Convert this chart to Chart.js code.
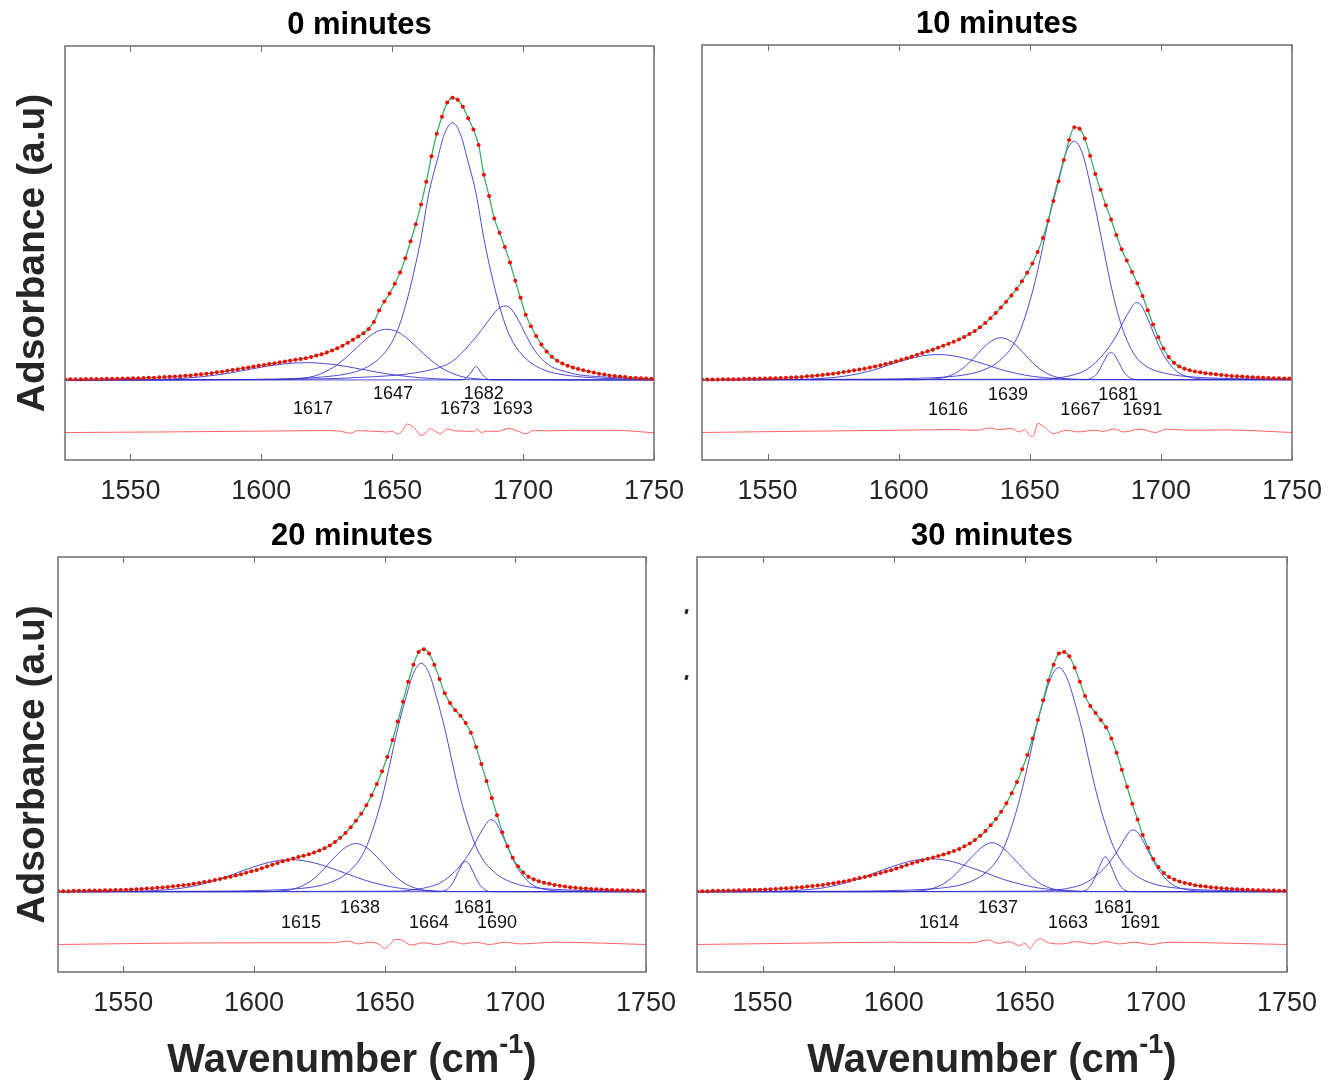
<!DOCTYPE html>
<html>
<head>
<meta charset="utf-8">
<script src="https://cdn.jsdelivr.net/npm/chart.js@4.4.1/dist/chart.umd.min.js"></script>
<style>
  body { margin: 0; background: #fff; width: 1338px; height: 1081px; position: relative; overflow: hidden; }
  canvas { position: absolute; left: 0; top: 0; }
  .speck { position: absolute; width: 3px; height: 5px; background: #222; transform: rotate(15deg); }
</style>
</head>
<body>
<canvas id="c0" width="1338" height="1081"></canvas>
<canvas id="c1" width="1338" height="1081"></canvas>
<canvas id="c2" width="1338" height="1081"></canvas>
<canvas id="c3" width="1338" height="1081"></canvas>
<div class="speck" style="left:685px;top:609px"></div>
<div class="speck" style="left:685px;top:675px"></div>
<script>
// ---- data (absorbance in a.u., baseline = 0) ----
const wavenumbers = [
  1525,1527,1529,1531,1533,1535,1537,1539,1541,1543,
  1545,1547,1549,1551,1553,1555,1557,1559,1561,1563,
  1565,1567,1569,1571,1573,1575,1577,1579,1581,1583,
  1585,1587,1589,1591,1593,1595,1597,1599,1601,1603,
  1605,1607,1609,1611,1613,1615,1617,1619,1621,1623,
  1625,1627,1629,1631,1633,1635,1637,1639,1641,1643,
  1645,1647,1649,1651,1653,1655,1657,1659,1661,1663,
  1665,1667,1669,1671,1673,1675,1677,1679,1681,1683,
  1685,1687,1689,1691,1693,1695,1697,1699,1701,1703,
  1705,1707,1709,1711,1713,1715,1717,1719,1721,1723,
  1725,1727,1729,1731,1733,1735,1737,1739,1741,1743,
  1745,1747,1749
];
const xTicks = [1550, 1600, 1650, 1700, 1750];

// 0 minutes
const spec0 = [
  .002,.002,.002,.002,.003,.003,.003,.003,.004,.004,
  .004,.005,.005,.006,.006,.007,.008,.008,.009,.010,
  .011,.012,.013,.015,.016,.018,.020,.022,.024,.027,
  .029,.032,.035,.038,.041,.044,.047,.050,.053,.056,
  .059,.062,.065,.068,.071,.074,.077,.081,.086,.091,
  .097,.104,.112,.121,.131,.142,.153,.165,.180,.205,
  .245,.277,.305,.340,.380,.430,.490,.550,.620,.700,
  .790,.870,.930,.980,.997,.990,.965,.925,.885,.830,
  .725,.650,.570,.520,.470,.415,.350,.290,.230,.190,
  .155,.125,.100,.082,.068,.058,.050,.044,.039,.034,
  .030,.026,.022,.019,.016,.014,.012,.010,.008,.007,
  .006,.005,.004
];
const comp0_1617 = [[1525,0],[1557,.001],[1567,.004],[1577,.011],[1587,.023],[1597,.040],[1607,.055],[1617,.061],[1627,.055],[1637,.040],[1647,.023],[1657,.011],[1667,.004],[1677,.001],[1750,0]];
const comp0_1647 = [[1525,0],[1608,.001],[1616,.006],[1620,.013],[1624,.027],[1628,.047],[1632,.076],[1636,.110],[1640,.144],[1644,.170],[1648,.179],[1652,.170],[1656,.144],[1660,.110],[1664,.076],[1668,.047],[1672,.027],[1676,.013],[1680,.006],[1688,.001],[1750,0]];
const comp0_1673 = [[1525,0],[1598,.002],[1613,.005],[1623,.010],[1633,.022],[1638,.035],[1643,.060],[1646,.085],[1649,.120],[1652,.175],[1655,.260],[1658,.370],[1661,.500],[1664,.660],[1667,.770],[1670,.870],[1673,.909],[1676,.870],[1679,.770],[1682,.660],[1685,.500],[1688,.370],[1691,.260],[1694,.175],[1697,.120],[1700,.085],[1703,.060],[1708,.035],[1713,.022],[1723,.010],[1733,.005],[1748,.002],[1750,.002]];
const comp0_1682 = [[1525,0],[1676,0],[1678,.005],[1680,.025],[1682,.047],[1684,.025],[1686,.005],[1688,0],[1750,0]];
const comp0_1693 = [[1525,0],[1620,.003],[1640,.010],[1655,.020],[1663,.032],[1668,.044],[1672,.060],[1676,.090],[1680,.130],[1684,.175],[1688,.225],[1691,.255],[1693,.261],[1695,.255],[1698,.215],[1701,.160],[1704,.110],[1707,.075],[1711,.046],[1716,.030],[1720,.020],[1728,.012],[1736,.008],[1750,.004]];
const resid0 = [[1525,-.186],[1560,-.184],[1600,-.181],[1625,-.179],[1630,-.181],[1634,-.188],[1637,-.179],[1641,-.181],[1645,-.182],[1648,-.184],[1650,-.181],[1652,-.191],[1654,-.178],[1655.5,-.156],[1657.5,-.162],[1659,-.176],[1661,-.196],[1663,-.186],[1664.5,-.172],[1666.5,-.182],[1668.5,-.190],[1671,-.173],[1674,-.180],[1678,-.181],[1681,-.183],[1682.5,-.174],[1684,-.186],[1686,-.181],[1690,-.182],[1694.5,-.172],[1698,-.181],[1701,-.190],[1704,-.179],[1710,-.180],[1720,-.178],[1735,-.178],[1750,-.187]];
const peaks0 = ['1617','1647','1673','1682','1693'];
const peakTextX0 = [1619.7, 1650.3, 1675.9, 1685, 1696];
const peakTextY0 = [-.102, -.049, -.102, -.049, -.102];

// 10 minutes
const spec1 = [
  .001,.001,.001,.001,.002,.002,.002,.002,.003,.003,
  .003,.004,.004,.005,.005,.006,.007,.008,.009,.010,
  .012,.013,.015,.017,.019,.021,.024,.027,.030,.033,
  .036,.039,.043,.047,.051,.055,.060,.065,.070,.076,
  .082,.088,.094,.100,.106,.113,.120,.127,.134,.142,
  .151,.161,.172,.185,.200,.217,.235,.255,.275,.297,
  .320,.347,.377,.410,.450,.500,.560,.630,.700,.775,
  .845,.890,.885,.850,.790,.725,.670,.615,.565,.510,
  .460,.420,.380,.340,.295,.245,.195,.150,.110,.080,
  .060,.047,.039,.033,.029,.026,.023,.021,.019,.017,
  .015,.013,.012,.011,.010,.009,.008,.007,.006,.005,
  .005,.004,.004
];
const comp1_1616 = [[1525,0],[1560,.001],[1570,.004],[1579,.012],[1585,.022],[1591,.036],[1597,.054],[1603,.071],[1609,.084],[1615,.089],[1621,.084],[1627,.071],[1633,.054],[1639,.036],[1645,.022],[1651,.012],[1660,.004],[1670,.001],[1750,0]];
const comp1_1639 = [[1525,0],[1608,0],[1612,.002],[1617,.007],[1621,.020],[1624,.037],[1627,.061],[1630,.090],[1633,.119],[1636,.140],[1639,.148],[1642,.140],[1645,.119],[1648,.090],[1651,.061],[1654,.037],[1657,.020],[1661,.007],[1666,.002],[1672,0],[1750,0]];
const comp1_1667 = [[1525,0],[1592,.002],[1607,.005],[1617,.009],[1627,.020],[1632,.033],[1637,.056],[1640,.080],[1643,.113],[1646,.165],[1649,.245],[1652,.345],[1655,.470],[1658,.600],[1661,.710],[1664,.805],[1667,.841],[1670,.800],[1673,.690],[1676,.560],[1679,.420],[1682,.290],[1685,.190],[1688,.120],[1691,.075],[1694,.050],[1697,.035],[1702,.022],[1707,.014],[1717,.007],[1727,.004],[1742,.002],[1750,.001]];
const comp1_1681 = [[1525,0],[1671,0],[1674,.008],[1676,.026],[1678,.060],[1680,.092],[1681,.095],[1682,.091],[1684,.060],[1686,.026],[1688,.008],[1691,0],[1750,0]];
const comp1_1691 = [[1525,0],[1655,.002],[1662,.008],[1667,.018],[1671,.032],[1675,.060],[1679,.100],[1683,.155],[1686,.210],[1688.5,.250],[1690.5,.272],[1692.5,.262],[1695,.215],[1697.5,.158],[1700,.105],[1702.5,.066],[1705,.038],[1708,.018],[1712,.007],[1718,.002],[1750,0]];
const resid1 = [[1525,-.186],[1560,-.182],[1600,-.178],[1620,-.176],[1630,-.178],[1635,-.170],[1638,-.176],[1643,-.172],[1646,-.184],[1648,-.176],[1650.5,-.200],[1651.5,-.196],[1653,-.154],[1655.5,-.166],[1659,-.190],[1664,-.178],[1668,-.184],[1675,-.178],[1678,-.182],[1682,-.174],[1686,-.184],[1692,-.174],[1698,-.186],[1702,-.174],[1710,-.178],[1725,-.177],[1750,-.186]];
const peaks1 = ['1616','1639','1667','1681','1691'];
const peakTextX1 = [1618.8, 1641.7, 1669.3, 1683.7, 1692.9];
const peakTextY1 = [-.106, -.053, -.106, -.053, -.106];

// 20 minutes
const spec2 = [
  .002,.002,.002,.003,.003,.003,.004,.004,.004,.005,
  .005,.006,.006,.007,.008,.009,.010,.011,.012,.014,
  .015,.017,.019,.021,.023,.025,.028,.031,.034,.037,
  .041,.045,.049,.053,.057,.062,.067,.072,.077,.083,
  .089,.095,.101,.107,.112,.117,.122,.127,.132,.138,
  .145,.153,.163,.175,.190,.207,.227,.250,.275,.305,
  .340,.380,.425,.475,.535,.600,.670,.740,.800,.845,
  .855,.840,.800,.750,.700,.665,.640,.620,.595,.560,
  .510,.450,.390,.330,.270,.210,.160,.120,.090,.068,
  .053,.044,.037,.032,.028,.024,.021,.018,.016,.014,
  .012,.011,.010,.009,.008,.007,.006,.005,.005,.004,
  .004,.003,.003
];
const comp2_1615 = [[1525,0],[1552,.001],[1562,.004],[1572,.012],[1579,.024],[1586,.042],[1593,.065],[1600,.088],[1607,.106],[1614,.113],[1621,.106],[1628,.088],[1635,.065],[1642,.042],[1649,.024],[1656,.012],[1666,.004],[1676,.001],[1750,0]];
const comp2_1638 = [[1525,0],[1605,0],[1609,.002],[1614,.007],[1619,.023],[1623,.047],[1627,.083],[1631,.123],[1635,.156],[1639,.170],[1643,.156],[1647,.123],[1651,.083],[1655,.047],[1659,.023],[1664,.007],[1669,.002],[1675,0],[1750,0]];
const comp2_1664 = [[1525,0],[1589,.002],[1604,.005],[1614,.009],[1624,.019],[1629,.032],[1634,.054],[1637,.077],[1640,.108],[1643,.158],[1646,.235],[1649,.330],[1652,.450],[1655,.575],[1658,.680],[1661,.770],[1664,.805],[1667,.770],[1670,.680],[1673,.575],[1676,.450],[1679,.330],[1682,.235],[1685,.158],[1688,.108],[1691,.077],[1694,.054],[1699,.032],[1704,.019],[1714,.009],[1724,.005],[1739,.002],[1750,.001]];
const comp2_1681 = [[1525,0],[1671,0],[1674,.009],[1676,.030],[1678,.067],[1680,.102],[1681,.106],[1682,.102],[1684,.067],[1686,.030],[1688,.009],[1691,0],[1750,0]];
const comp2_1690 = [[1525,0],[1655,.002],[1662,.008],[1667,.017],[1671,.030],[1675,.056],[1679,.093],[1683,.145],[1686,.196],[1688.5,.235],[1690.5,.254],[1692.5,.244],[1695,.200],[1697.5,.148],[1700,.098],[1702.5,.062],[1705,.035],[1708,.017],[1712,.007],[1718,.002],[1750,0]];
const resid2 = [[1525,-.186],[1560,-.182],[1600,-.180],[1630,-.180],[1636,-.174],[1640,-.184],[1644,-.178],[1648,-.186],[1650,-.200],[1652,-.186],[1654,-.168],[1657,-.172],[1660,-.188],[1665,-.180],[1670,-.186],[1676,-.176],[1680,-.184],[1685,-.178],[1690,-.186],[1696,-.178],[1702,-.184],[1715,-.178],[1750,-.186]];
const peaks2 = ['1615','1638','1664','1681','1690'];
const peakTextX2 = [1618, 1640.6, 1667, 1684.2, 1693];
const peakTextY2 = [-.109, -.056, -.109, -.056, -.109];

// 30 minutes
const spec3 = [
  .002,.002,.002,.003,.003,.003,.004,.004,.005,.005,
  .006,.006,.007,.008,.009,.010,.011,.012,.013,.015,
  .016,.018,.020,.022,.024,.027,.030,.033,.036,.040,
  .044,.048,.052,.056,.061,.066,.071,.076,.082,.088,
  .094,.100,.106,.111,.116,.121,.126,.131,.137,.144,
  .151,.160,.170,.182,.197,.214,.234,.256,.282,.312,
  .347,.387,.432,.482,.540,.605,.675,.745,.800,.840,
  .845,.830,.790,.740,.690,.655,.630,.605,.580,.540,
  .490,.430,.370,.310,.255,.200,.155,.115,.087,.066,
  .052,.043,.036,.031,.027,.023,.020,.018,.016,.014,
  .012,.011,.010,.009,.008,.007,.006,.005,.005,.004,
  .004,.003,.003
];
const comp3_1614 = [[1525,0],[1552,.001],[1562,.004],[1572,.012],[1579,.025],[1586,.043],[1593,.067],[1600,.090],[1607,.109],[1614,.116],[1621,.109],[1628,.090],[1635,.067],[1642,.043],[1649,.025],[1656,.012],[1666,.004],[1676,.001],[1750,0]];
const comp3_1637 = [[1525,0],[1604,0],[1608,.002],[1613,.007],[1618,.023],[1622,.048],[1626,.085],[1630,.125],[1634,.159],[1637.5,.173],[1641,.159],[1645,.125],[1649,.085],[1653,.048],[1657,.023],[1662,.007],[1667,.002],[1673,0],[1750,0]];
const comp3_1663 = [[1525,0],[1588,.002],[1603,.005],[1613,.009],[1623,.019],[1628,.031],[1633,.053],[1636,.075],[1639,.106],[1642,.155],[1645,.230],[1648,.325],[1651,.440],[1654,.565],[1657,.670],[1660,.755],[1663,.790],[1666,.755],[1669,.670],[1672,.565],[1675,.440],[1678,.325],[1681,.230],[1684,.155],[1687,.106],[1690,.075],[1693,.053],[1698,.031],[1703,.019],[1713,.009],[1723,.005],[1738,.002],[1750,.001]];
const comp3_1681 = [[1525,0],[1671,0],[1674,.010],[1676,.035],[1678,.078],[1680,.118],[1680.6,.123],[1681.5,.118],[1683.5,.078],[1685.5,.035],[1687.5,.010],[1690.5,0],[1750,0]];
const comp3_1691 = [[1525,0],[1656,.002],[1663,.007],[1668,.015],[1672,.026],[1676,.048],[1680,.080],[1684,.125],[1687,.170],[1689,.200],[1691,.218],[1693,.210],[1695.5,.172],[1698,.127],[1700.5,.084],[1703,.053],[1705.5,.030],[1708.5,.015],[1712.5,.006],[1718.5,.002],[1750,0]];
const resid3 = [[1525,-.186],[1560,-.182],[1600,-.178],[1630,-.180],[1636,-.170],[1640,-.182],[1644,-.176],[1648,-.190],[1650,-.182],[1652,-.200],[1654,-.176],[1656,-.166],[1659,-.180],[1664,-.184],[1670,-.176],[1676,-.184],[1681,-.176],[1686,-.184],[1692,-.178],[1698,-.186],[1705,-.178],[1720,-.180],[1750,-.186]];
const peaks3 = ['1614','1637','1663','1681','1691'];
const peakTextX3 = [1617.3, 1639.8, 1666.5, 1684, 1694];
const peakTextY3 = [-.109, -.056, -.109, -.056, -.109];

// ---- layout of the four panels (page pixels of the plot box) ----
const FONT = '"Liberation Sans", Arial, Helvetica, sans-serif';
const panels = [
  { id: 'c0', box: [65, 46, 654, 460],   title: '0 minutes',  yTitle: true,  xTitle: false,
    spec: spec0, comps: [comp0_1617, comp0_1647, comp0_1673, comp0_1682, comp0_1693], resid: resid0,
    peaks: peaks0, peakX: peakTextX0, peakY: peakTextY0 },
  { id: 'c1', box: [702, 45, 1292, 460], title: '10 minutes', yTitle: false, xTitle: false,
    spec: spec1, comps: [comp1_1616, comp1_1639, comp1_1667, comp1_1681, comp1_1691], resid: resid1,
    peaks: peaks1, peakX: peakTextX1, peakY: peakTextY1 },
  { id: 'c2', box: [58, 557, 646, 972],  title: '20 minutes', yTitle: true,  xTitle: true,
    spec: spec2, comps: [comp2_1615, comp2_1638, comp2_1664, comp2_1681, comp2_1690], resid: resid2,
    peaks: peaks2, peakX: peakTextX2, peakY: peakTextY2 },
  { id: 'c3', box: [697, 557, 1287, 972], title: '30 minutes', yTitle: false, xTitle: true,
    spec: spec3, comps: [comp3_1614, comp3_1637, comp3_1663, comp3_1681, comp3_1691], resid: resid3,
    peaks: peaks3, peakX: peakTextX3, peakY: peakTextY3 },
];

const X_AXIS_H = 60;

// box, inner ticks, titles and peak labels
const makeDecor = (p) => ({
  id: 'decor',
  afterDatasetsDraw(chart) {
    const { ctx, chartArea: a, scales: { x, y } } = chart;
    ctx.save();

    ctx.fillStyle = '#111';
    ctx.font = `18px ${FONT}`;
    ctx.textAlign = 'center';
    ctx.textBaseline = 'middle';
    p.peaks.forEach((t, i) => {
      ctx.fillText(t, x.getPixelForValue(p.peakX[i]), y.getPixelForValue(p.peakY[i]));
    });

    ctx.strokeStyle = '#6e6e6e';
    ctx.lineWidth = 1.5;
    ctx.strokeRect(a.left, a.top, a.width, a.height);
    ctx.lineWidth = 1;
    x.ticks.forEach((t) => {
      const px = Math.round(x.getPixelForValue(t.value)) + 0.5;
      ctx.beginPath();
      ctx.moveTo(px, a.bottom); ctx.lineTo(px, a.bottom - 6);
      ctx.moveTo(px, a.top); ctx.lineTo(px, a.top + 6);
      ctx.stroke();
    });

    const cx = (a.left + a.right) / 2;
    ctx.fillStyle = '#000';
    ctx.font = `bold 31px ${FONT}`;
    ctx.fillText(p.title, cx, a.top - 21);

    ctx.fillStyle = '#262626';
    if (p.yTitle) {
      ctx.save();
      ctx.translate(33, (a.top + a.bottom) / 2);
      ctx.rotate(-Math.PI / 2);
      ctx.font = `bold 39px ${FONT}`;
      ctx.fillText('Adsorbance (a.u)', 0, 0);
      ctx.restore();
    }
    if (p.xTitle) {
      ctx.font = `bold 40px ${FONT}`;
      const main = 'Wavenumber (cm';
      const wMain = ctx.measureText(main).width;
      ctx.font = `bold 27px ${FONT}`;
      const wSup = ctx.measureText('-1').width;
      ctx.font = `bold 40px ${FONT}`;
      const wEnd = ctx.measureText(')').width;
      let sx = cx - (wMain + wSup + wEnd) / 2;
      const base = 1072;
      ctx.textAlign = 'left';
      ctx.textBaseline = 'alphabetic';
      ctx.fillText(main, sx, base);
      sx += wMain;
      ctx.font = `bold 27px ${FONT}`;
      ctx.fillText('-1', sx, base - 19);
      sx += wSup;
      ctx.font = `bold 40px ${FONT}`;
      ctx.fillText(')', sx, base);
    }
    ctx.restore();
  },
});

const toXY = (pairs) => pairs.map(([x, y]) => ({ x, y }));

panels.forEach((p) => {
  const [L, T, R, B] = p.box;
  const canvas = document.getElementById(p.id);
  const spectrum = wavenumbers.map((x, i) => ({ x, y: p.spec[i] }));

  const datasets = [
    { label: 'data', data: spectrum, showLine: false, pointRadius: 2, pointBackgroundColor: '#ff0000',
      pointBorderWidth: 0, order: 0 },
    { label: 'fit', data: spectrum, borderColor: 'rgb(50,170,90)', borderWidth: 1.2, pointRadius: 0,
      cubicInterpolationMode: 'monotone', order: 1 },
    ...p.comps.map((c, i) => ({
      label: 'peak ' + p.peaks[i], data: toXY(c), borderColor: 'rgba(45,45,205,0.85)', borderWidth: 1,
      pointRadius: 0, cubicInterpolationMode: 'monotone', order: 2,
    })),
    { label: 'residual', data: toXY(p.resid), borderColor: 'rgba(255,70,70,0.85)', borderWidth: 1,
      pointRadius: 0, cubicInterpolationMode: 'monotone', order: 3 },
  ];

  new Chart(canvas, {
    type: 'line',
    data: { datasets },
    options: {
      responsive: false,
      animation: false,
      events: [],
      layout: { padding: { left: L, top: T, right: 1338 - R, bottom: 1081 - B - X_AXIS_H } },
      plugins: { legend: { display: false }, tooltip: { enabled: false }, title: { display: false } },
      scales: {
        x: {
          type: 'linear', min: 1525, max: 1750,
          afterBuildTicks: (s) => { s.ticks = xTicks.map((v) => ({ value: v })); },
          afterFit: (s) => { s.height = X_AXIS_H; s.paddingLeft = 0; s.paddingRight = 0; },
          grid: { display: false, drawTicks: false },
          border: { display: false },
          ticks: {
            color: '#262626', font: { family: FONT, size: 27 }, padding: 15, maxRotation: 0, autoSkip: false,
            callback: (v) => String(v),
          },
        },
        y: { display: false, min: -0.283, max: 1.18 },
      },
    },
    plugins: [makeDecor(p)],
  });
});
</script>
</body>
</html>
